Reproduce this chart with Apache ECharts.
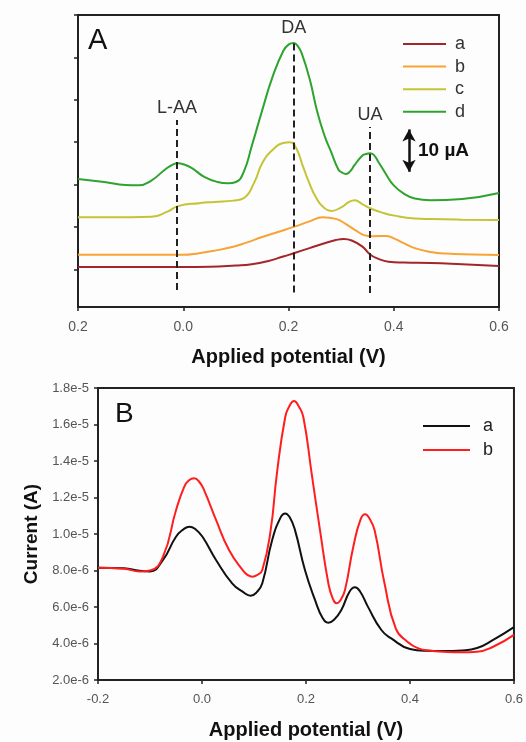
<!DOCTYPE html>
<html>
<head>
<meta charset="utf-8">
<script src="https://cdn.jsdelivr.net/npm/echarts@6/dist/echarts.min.js"></script>
<style>
html,body{margin:0;padding:0;background:#fdfdfd;}
#chart{width:526px;height:742px;}
</style>
</head>
<body>
<div id="chart"></div>
<script>
// ---------- Panel A (current in µA, arbitrary offsets) ----------
const xTickLabelsA = ['0.2', '0.0', '0.2', '0.4', '0.6'];
const yTicksA = [0, 10, 20, 30, 40, 50, 60];

const potA_a = [-0.20, -0.10, 0.00, 0.05, 0.10, 0.13, 0.16, 0.19, 0.21, 0.24, 0.27, 0.29, 0.305, 0.32, 0.34, 0.355, 0.37, 0.39, 0.42, 0.47, 0.53, 0.60];
const curA_a = [0.55, 0.55, 0.55, 0.6, 0.9, 1.2, 1.9, 3.0, 3.8, 5.0, 6.2, 6.9, 7.15, 6.8, 5.4, 3.5, 2.5, 1.8, 1.6, 1.5, 1.2, 0.8];

const potA_b = [-0.20, -0.10, 0.00, 0.03, 0.06, 0.095, 0.12, 0.15, 0.18, 0.21, 0.24, 0.265, 0.29, 0.31, 0.33, 0.345, 0.36, 0.385, 0.40, 0.42, 0.44, 0.47, 0.50, 0.55, 0.60];
const curA_b = [3.4, 3.4, 3.4, 3.8, 4.4, 5.3, 6.3, 7.6, 8.8, 10.0, 11.3, 12.3, 11.9, 10.6, 9.0, 8.0, 7.8, 7.85, 7.3, 6.1, 5.0, 4.1, 3.7, 3.5, 3.35];

const potA_c = [-0.20, -0.10, -0.06, -0.03, -0.01, 0.03, 0.06, 0.095, 0.115, 0.135, 0.15, 0.17, 0.19, 0.203, 0.215, 0.228, 0.24, 0.252, 0.265, 0.281, 0.30, 0.315, 0.326, 0.34, 0.355, 0.38, 0.404, 0.44, 0.47, 0.53, 0.60];
const curA_c = [12.3, 12.3, 12.4, 13.6, 14.9, 15.6, 15.9, 16.2, 16.8, 20.5, 25.0, 28.2, 29.8, 30.0, 28.5, 24.1, 20.2, 17.0, 14.8, 13.75, 14.6, 15.9, 16.3, 15.4, 14.4, 13.3, 12.6, 12.0, 11.85, 11.7, 11.6];

const potA_d = [-0.20, -0.15, -0.11, -0.085, -0.06, -0.035, -0.02, -0.01, 0.00, 0.015, 0.04, 0.065, 0.085, 0.10, 0.115, 0.13, 0.15, 0.17, 0.19, 0.20, 0.21, 0.218, 0.225, 0.24, 0.255, 0.27, 0.28, 0.295, 0.302, 0.309, 0.317, 0.325, 0.34, 0.347, 0.355, 0.362, 0.37, 0.385, 0.40, 0.42, 0.44, 0.47, 0.53, 0.60];
const curA_d = [21.3, 20.6, 19.9, 19.8, 21.0, 23.5, 24.7, 25.0, 24.8, 24.0, 21.8, 20.6, 20.3, 20.6, 23.0, 29.0, 37.5, 45.5, 51.5, 53.0, 53.4, 52.6, 51.0, 45.0, 37.0, 31.0, 28.0, 23.5, 22.8, 22.5, 23.1, 24.5, 26.8, 27.2, 27.4, 27.0, 25.5, 22.5, 19.8, 17.8, 16.7, 16.3, 16.6, 18.0];

const peakNamesA = ['L-AA', 'DA', 'UA'];
const peakPotA = [-0.012, 0.21, 0.355];
const peakLineTopA = [35.2, 54.0, 33.6];
const peakLineBottomA = [-4.9, -5.5, -5.6];
const scaleBarPot = 0.429;
const scaleBarRange = [23, 33];
const scaleBarText = '10 µA';

// ---------- Panel B (current in units of 1e-6 A) ----------
const xTickLabelsB = ['-0.2', '0.0', '0.2', '0.4', '0.6'];

const potB_a = [-0.20, -0.15, -0.12, -0.10, -0.075, -0.05, -0.036, -0.024, -0.012, 0.001, 0.027, 0.058, 0.08, 0.0934, 0.105, 0.116, 0.135, 0.152, 0.16, 0.169, 0.179, 0.198, 0.2175, 0.232, 0.243, 0.254, 0.268, 0.284, 0.294, 0.304, 0.319, 0.345, 0.364, 0.40, 0.43, 0.464, 0.50, 0.529, 0.56, 0.60];
const curB_a = [8.15, 8.12, 7.98, 7.95, 8.58, 9.85, 10.25, 10.4, 10.25, 9.85, 8.58, 7.3, 6.8, 6.62, 6.8, 7.3, 9.67, 10.95, 11.13, 10.9, 10.2, 8.03, 6.38, 5.4, 5.14, 5.3, 5.84, 6.85, 7.08, 6.85, 6.02, 4.74, 4.28, 3.7, 3.6, 3.59, 3.62, 3.75, 4.2, 4.9];

const potB_b = [-0.20, -0.15, -0.12, -0.10, -0.075, -0.05, -0.034, -0.025, -0.015, -0.005, 0.004, 0.027, 0.052, 0.078, 0.088, 0.097, 0.106, 0.116, 0.132, 0.144, 0.16, 0.168, 0.177, 0.186, 0.195, 0.211, 0.227, 0.243, 0.251, 0.259, 0.267, 0.275, 0.291, 0.305, 0.314, 0.322, 0.332, 0.351, 0.373, 0.395, 0.415, 0.44, 0.464, 0.50, 0.529, 0.56, 0.60];
const curB_b = [8.15, 8.1, 7.95, 8.0, 8.76, 11.3, 12.6, 12.95, 13.05, 12.85, 12.4, 10.77, 9.12, 8.03, 7.75, 7.66, 7.75, 8.03, 10.2, 13.3, 16.4, 17.0, 17.29, 17.0, 16.4, 13.3, 10.2, 7.3, 6.5, 6.2, 6.4, 6.93, 9.3, 10.8, 11.08, 10.85, 10.2, 7.3, 4.8, 4.1, 3.75, 3.6, 3.55, 3.52, 3.55, 3.82, 4.47];

// ---------- build ----------
const FONT = 'Liberation Sans, Arial, sans-serif';
const pair = (xs, ys) => xs.map((x, i) => [x, ys[i]]);
const colorsA = {a: '#a3262a', b: '#f7a335', c: '#c4c437', d: '#2fa32f'};
const colorsB = {a: '#111111', b: '#ff1e1e'};

function lineSeries(name, xs, ys, color, axisIdx) {
  return {
    type: 'line', name: name, data: pair(xs, ys),
    xAxisIndex: axisIdx, yAxisIndex: axisIdx,
    smooth: 0.5, showSymbol: false, symbol: 'none',
    lineStyle: {color: color, width: 2}, itemStyle: {color: color},
    z: 3
  };
}

const seriesA_a = lineSeries('a', potA_a, curA_a, colorsA.a, 0);
seriesA_a.markLine = {
  silent: true, animation: false, symbol: ['none', 'none'],
  lineStyle: {color: '#222', type: [7, 4], width: 2},
  label: {show: true, position: 'end', formatter: '{b}', fontSize: 18, color: '#333', distance: 3, fontFamily: FONT},
  data: peakNamesA.map((n, i) => [
    {name: n, coord: [peakPotA[i], peakLineBottomA[i]]},
    {coord: [peakPotA[i], peakLineTopA[i]]}
  ])
};
const seriesA_b = lineSeries('b', potA_b, curA_b, colorsA.b, 0);
seriesA_b.markLine = {
  silent: true, animation: false, symbol: ['arrow', 'arrow'], symbolSize: [10, 12],
  lineStyle: {color: '#111', type: 'solid', width: 2.5},
  label: {show: false},
  data: [[{coord: [scaleBarPot, scaleBarRange[0]]}, {coord: [scaleBarPot, scaleBarRange[1]]}]]
};
seriesA_b.markPoint = {
  silent: true, animation: false, symbol: 'circle', symbolSize: 0,
  label: {show: true, position: 'right', distance: 9, formatter: scaleBarText, fontSize: 19, fontWeight: 'bold', color: '#111', fontFamily: FONT},
  data: [{coord: [scaleBarPot, (scaleBarRange[0] + scaleBarRange[1]) / 2]}]
};
const seriesA_c = lineSeries('c', potA_c, curA_c, colorsA.c, 0);
const seriesA_d = lineSeries('d', potA_d, curA_d, colorsA.d, 0);
const seriesB_a = lineSeries('B:a', potB_a, curB_a, colorsB.a, 1);
const seriesB_b = lineSeries('B:b', potB_b, curB_b, colorsB.b, 1);

const axisTextColor = '#555';

const option = {
  animation: false,
  backgroundColor: '#fdfdfd',
  textStyle: {fontFamily: FONT},
  grid: [
    {left: 78, top: 15, width: 421, height: 292, show: true, borderColor: '#222', borderWidth: 2, backgroundColor: 'transparent'},
    {left: 98, top: 388, width: 419, height: 292, show: true, borderColor: '#222', borderWidth: 2, backgroundColor: 'transparent'}
  ],
  xAxis: [
    {
      gridIndex: 0, type: 'value', min: -0.2, max: 0.6, interval: 0.2,
      axisLine: {onZero: false, lineStyle: {color: '#222', width: 2}},
      axisTick: {show: true, length: 4, lineStyle: {color: '#222', width: 1.5}},
      axisLabel: {margin: 13, fontSize: 14, color: axisTextColor,
        formatter: v => xTickLabelsA[Math.round((v + 0.2) / 0.2)]},
      splitLine: {show: false},
      name: 'Applied potential (V)', nameLocation: 'middle', nameGap: 40,
      nameTextStyle: {fontSize: 20, fontWeight: 'bold', color: '#111'}
    },
    {
      gridIndex: 1, type: 'value', min: -0.2, max: 0.6, interval: 0.2,
      axisLine: {onZero: false, lineStyle: {color: '#222', width: 2}},
      axisTick: {show: true, length: 4, lineStyle: {color: '#222', width: 1.5}},
      axisLabel: {margin: 13, fontSize: 13, color: axisTextColor,
        formatter: v => xTickLabelsB[Math.round((v + 0.2) / 0.2)]},
      splitLine: {show: false},
      name: 'Applied potential (V)', nameLocation: 'middle', nameGap: 40,
      nameTextStyle: {fontSize: 20, fontWeight: 'bold', color: '#111'}
    }
  ],
  yAxis: [
    {
      gridIndex: 0, type: 'value', min: -8.9, max: 60,
      axisLine: {show: true, onZero: false, lineStyle: {color: '#222', width: 2}},
      axisTick: {show: true, inside: false, length: 4, customValues: yTicksA, lineStyle: {color: '#222', width: 1.5}},
      axisLabel: {show: false},
      splitLine: {show: false}
    },
    {
      gridIndex: 1, type: 'value', min: 2, max: 18, interval: 2,
      axisLine: {show: true, onZero: false, lineStyle: {color: '#222', width: 2}},
      axisTick: {show: true, length: 4, lineStyle: {color: '#222', width: 1.5}},
      axisLabel: {margin: 9, fontSize: 13, color: axisTextColor,
        formatter: v => (v * 1e-6).toExponential(1)},
      splitLine: {show: false},
      name: 'Current (A)', nameLocation: 'middle', nameGap: 55, nameRotate: 90,
      nameTextStyle: {fontSize: 19, fontWeight: 'bold', color: '#111'}
    }
  ],
  legend: [
    {
      data: ['a', 'b', 'c', 'd'], left: 403, top: 35, orient: 'vertical', padding: 0,
      icon: 'rect', itemWidth: 43, itemHeight: 2, itemGap: 4.6,
      textStyle: {fontSize: 18, lineHeight: 18, color: '#333', padding: [0, 0, 0, 4]},
      selectedMode: false
    },
    {
      data: ['B:a', 'B:b'], left: 423, top: 417, orient: 'vertical', padding: 0,
      icon: 'rect', itemWidth: 47, itemHeight: 2, itemGap: 6,
      formatter: n => n.replace('B:', ''),
      textStyle: {fontSize: 18, lineHeight: 18, color: '#222', padding: [0, 0, 0, 8]},
      selectedMode: false
    }
  ],
  graphic: [
    {type: 'text', left: 88, top: 26, style: {text: 'A', fontSize: 29, fill: '#111', fontFamily: FONT}},
    {type: 'text', left: 115, top: 400, style: {text: 'B', fontSize: 28, fill: '#111', fontFamily: FONT}}
  ],
  series: [seriesA_a, seriesA_b, seriesA_c, seriesA_d, seriesB_a, seriesB_b]
};

const chart = echarts.init(document.getElementById('chart'), null, {renderer: 'canvas'});
chart.setOption(option);
</script>
</body>
</html>
